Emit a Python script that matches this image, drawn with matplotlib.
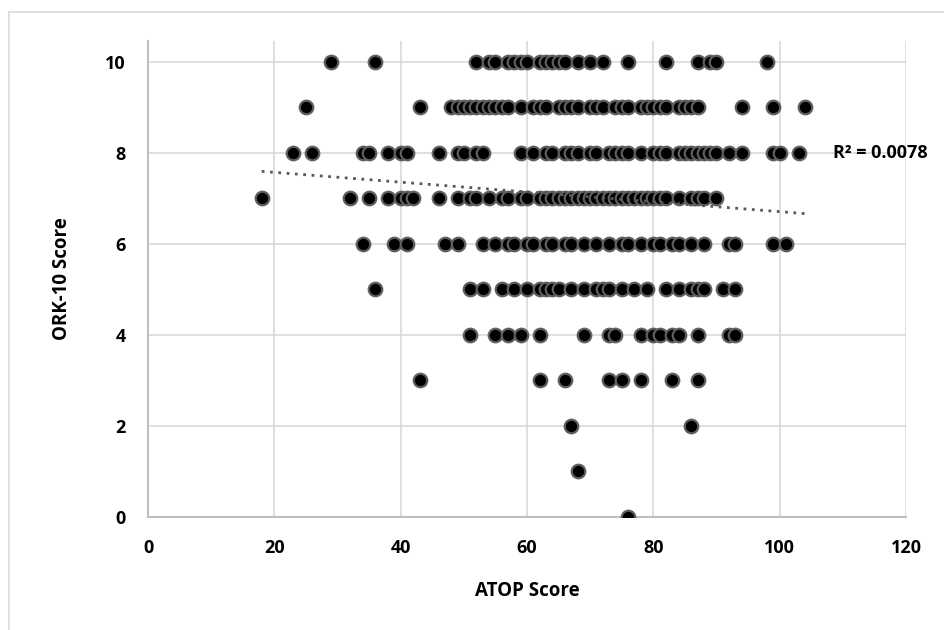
import numpy as np
import matplotlib.pyplot as plt
from matplotlib.lines import Line2D

# ATOP scores, grouped by ORK-10 score row
atop_by_ork = {
    10: [29, 36, 52, 54, 55, 57, 58, 59, 60, 62, 63, 64, 65, 66, 68, 70, 72, 76,
         82, 87, 89, 90, 98],
    9: [25, 43, 48, 49, 50, 51, 52, 53, 54, 55, 56, 57, 59, 61, 62, 63, 65, 66,
        67, 68, 70, 71, 72, 74, 75, 76, 78, 79, 80, 81, 82, 84, 85, 86, 87, 94,
        99, 104],
    8: [23, 26, 34, 35, 38, 40, 41, 46, 49, 50, 52, 53, 59, 61, 63, 64, 66, 67,
        68, 70, 71, 73, 74, 75, 76, 78, 80, 81, 82, 84, 85, 86, 87, 88, 89, 90,
        92, 94, 99, 100, 103],
    7: [18, 32, 35, 38, 40, 41, 42, 46, 49, 51, 52, 54, 56, 57, 59, 60, 62, 63,
        64, 65, 66, 67, 68, 69, 70, 71, 72, 73, 74, 75, 76, 77, 78, 79, 80, 81,
        82, 84, 86, 87, 88, 90],
    6: [34, 39, 41, 47, 49, 53, 55, 57, 58, 60, 61, 63, 64, 66, 67, 69, 71, 73,
        75, 76, 78, 80, 81, 83, 84, 86, 88, 92, 93, 99, 101],
    5: [36, 51, 53, 56, 58, 60, 62, 63, 64, 65, 67, 69, 71, 72, 73, 75, 77, 79,
        82, 84, 86, 87, 88, 91, 93],
    4: [51, 55, 57, 59, 62, 69, 73, 74, 78, 80, 81, 83, 84, 87, 92, 93],
    3: [43, 62, 66, 73, 75, 78, 83, 87],
    2: [67, 86],
    1: [68],
    0: [76],
}

# linear trendline
trend_slope = -0.0108
trend_intercept = 7.79
r_squared = 0.0078

x_ticks = [0, 20, 40, 60, 80, 100, 120]
y_ticks = [0, 2, 4, 6, 8, 10]

atop = np.concatenate([np.array(v, dtype=float) for v in atop_by_ork.values()])
ork = np.concatenate([np.full(len(v), k, dtype=float) for k, v in atop_by_ork.items()])

plt.rcParams['font.family'] = ['Open Sans', 'DejaVu Sans']

fig = plt.figure(figsize=(9.45, 6.3), dpi=100)
ax = fig.add_axes([148 / 945, 1 - 517 / 630, 758 / 945, 476 / 630])

ax.scatter(atop, ork, s=95, c='black', edgecolors='#5f5f5f', linewidths=1.6, zorder=3)

trend_x = np.array([atop.min(), atop.max()])
ax.plot(trend_x, trend_intercept + trend_slope * trend_x, linestyle=(0, (1, 2)),
        color='#595959', linewidth=2, zorder=4)

ax.set_xlim(0, 120)
ax.set_ylim(0, 10.46)
ax.set_xticks(x_ticks)
ax.set_yticks(y_ticks)
ax.grid(True, color='#d9d9d9', linewidth=1.2, zorder=0)
ax.set_axisbelow(True)
for side in ['top', 'right']:
    ax.spines[side].set_visible(False)
for side in ['left', 'bottom']:
    ax.spines[side].set_color('#bfbfbf')
    ax.spines[side].set_linewidth(1.5)
ax.tick_params(length=0, labelsize=13, pad=16)
ax.tick_params(axis='y', pad=16)
for lab in ax.get_xticklabels() + ax.get_yticklabels():
    lab.set_fontweight('bold')

ax.set_xlabel('ATOP Score', fontsize=13.5, fontweight='bold', labelpad=17)
ax.set_ylabel('ORK-10 Score', fontsize=13.5, fontweight='bold', labelpad=24)

fig.text(833 / 945, 1 - 153 / 630, f'R² = {r_squared}', fontsize=13, fontweight='bold',
         va='center', ha='left')

# outer chart frame (only left and top visible)
fig.add_artist(Line2D([9 / 945, 9 / 945], [0, 1 - 12 / 630], transform=fig.transFigure,
                      color='#d9d9d9', linewidth=1.2))
fig.add_artist(Line2D([9 / 945, 1], [1 - 12 / 630, 1 - 12 / 630], transform=fig.transFigure,
                      color='#d9d9d9', linewidth=1.2))

fig.savefig('out.png', dpi=100)
